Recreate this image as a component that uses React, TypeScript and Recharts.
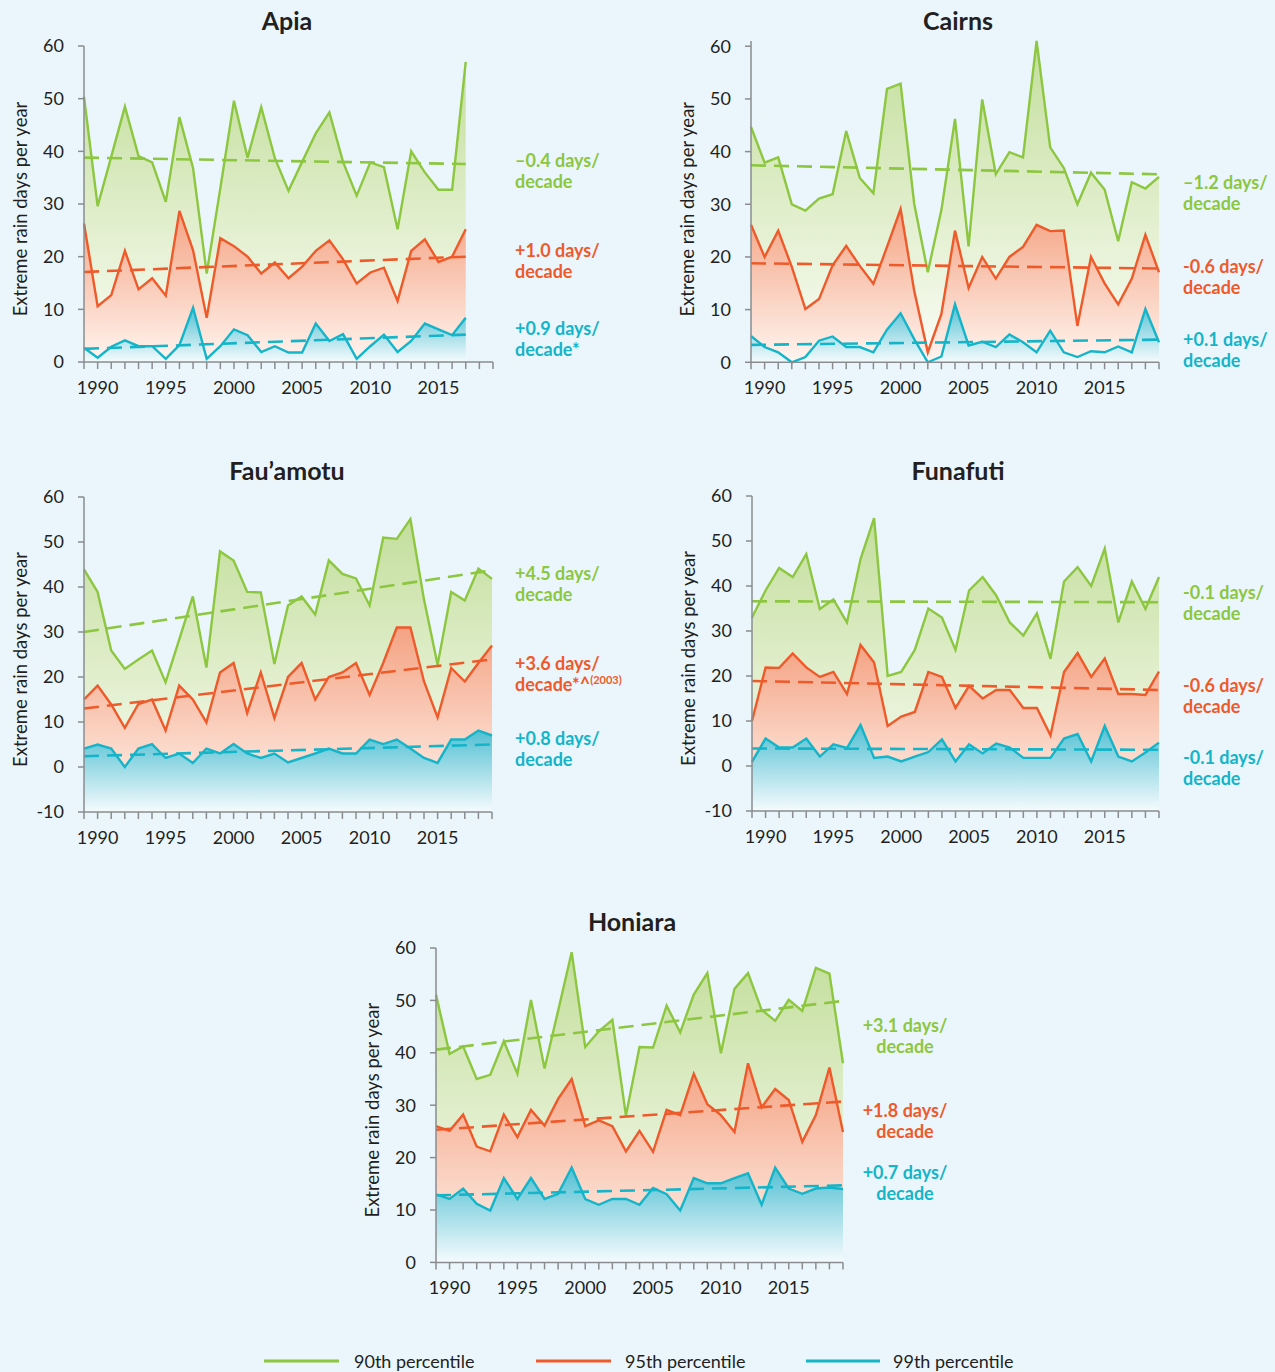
import React from 'react';
import { ComposedChart, Area, Line, XAxis, YAxis } from 'recharts';

const YEARS = [1989, 1990, 1991, 1992, 1993, 1994, 1995, 1996, 1997, 1998, 1999, 2000, 2001, 2002, 2003, 2004, 2005, 2006, 2007, 2008, 2009, 2010, 2011, 2012, 2013, 2014, 2015, 2016, 2017, 2018, 2019];
const X_TICKS = YEARS;
const Y_TICKS_A = [0, 10, 20, 30, 40, 50, 60];
const Y_TICKS_B = [-10, 0, 10, 20, 30, 40, 50, 60];

// Apia (1989-2017)
const APIA_90 = [50.4, 29.6, 39, 48.5, 39.1, 37.9, 30.4, 46.5, 36.8, 16.8, 33, 49.6, 38.8, 48.4, 38.7, 32.5, 38, 43.4, 47.4, 38, 31.6, 37.9, 37, 25.2, 40, 36, 32.7, 32.7, 57];
const APIA_95 = [26.3, 10.6, 12.7, 21.1, 13.8, 15.9, 12.6, 28.7, 21.2, 8.4, 23.5, 22, 20, 16.8, 18.9, 15.9, 18.1, 21.1, 23.1, 19.5, 14.9, 17, 17.9, 11.6, 21.1, 23.3, 19, 20, 25.2];
const APIA_99 = [2.7, 0.8, 2.9, 4.1, 3, 3, 0.6, 3.2, 10.3, 0.6, 3, 6.2, 5.1, 1.9, 3, 1.8, 1.8, 7.3, 4, 5.3, 0.6, 3, 5.2, 1.9, 4, 7.3, 6.2, 5.1, 8.4];
const APIA_T90 = [38.8, 37.6];
const APIA_T95 = [17.1, 20];
const APIA_T99 = [2.5, 5.2];

// Cairns (1989-2019)
const CAIRNS_90 = [44.7, 37.9, 38.9, 30, 28.8, 31.1, 31.9, 43.9, 35, 32.1, 51.9, 52.9, 30.1, 17.1, 28.9, 46.2, 22, 49.9, 35.7, 39.9, 38.9, 61, 40.8, 36.9, 30, 36, 32.8, 23, 34.2, 33, 35.2];
const CAIRNS_95 = [26.1, 20, 25, 18.1, 10.1, 12, 18.4, 22.1, 18.3, 14.9, 21.9, 29.1, 13.6, 1.9, 9.2, 25, 14.1, 20, 15.9, 20, 21.9, 26.1, 24.9, 25, 6.9, 20, 15, 11, 15.9, 24.2, 17.1];
const CAIRNS_99 = [5, 2.9, 1.9, 0, 1, 4.1, 4.9, 2.9, 2.9, 1.9, 6.2, 9.3, 4.4, 0, 1.1, 11, 3.2, 3.9, 2.9, 5.3, 3.8, 1.9, 6, 1.9, 1, 2.1, 1.9, 3, 1.9, 10.1, 3.8];
const CAIRNS_T90 = [37.4, 35.7];
const CAIRNS_T95 = [18.8, 17.8];
const CAIRNS_T99 = [3.3, 4.3];

// Fau'amotu (1989-2019)
const FAU_90 = [43.9, 38.9, 25.9, 21.8, 23.9, 25.9, 18.8, 28.3, 37.9, 22.1, 47.9, 45.9, 38.9, 38.8, 22.9, 35.9, 37.9, 33.9, 45.9, 42.9, 41.9, 35.9, 51, 50.7, 55.1, 37.2, 22.7, 38.9, 37, 44.1, 41.8];
const FAU_95 = [15, 18.1, 13.9, 8.7, 14, 15, 8.1, 18.1, 15, 9.9, 21, 23.1, 12, 21, 10.9, 20, 23.1, 15, 20, 21, 23.1, 16, 23.1, 31, 31, 19, 11, 22, 19, 23.1, 27];
const FAU_99 = [4.1, 5, 4.1, 0, 4.1, 5.1, 2, 3, 0.9, 4.1, 3, 5.1, 3, 2, 3, 1, 2, 3, 4.1, 3, 3, 6.1, 5.1, 6.1, 4.1, 2, 0.9, 6.1, 6.1, 8.1, 7];
const FAU_T90 = [30, 43.7];
const FAU_T95 = [13, 23.9];
const FAU_T99 = [2.4, 5];

// Funafuti (1989-2019)
const FUNA_90 = [33, 39, 44, 42, 47.1, 34.9, 37, 31.9, 46, 55.1, 20, 20.9, 25.8, 35, 33, 25.8, 39, 42, 37.9, 31.9, 29, 33.9, 23.8, 41, 44.2, 40, 48.3, 31.9, 41, 34.9, 42];
const FUNA_95 = [10, 21.9, 21.8, 25, 21.9, 19.8, 20.9, 16, 26.9, 23, 8.9, 11, 12, 20.9, 19.8, 12.9, 17.8, 15, 16.9, 16.9, 12.9, 12.9, 6.8, 20.9, 25.1, 19.8, 23.9, 16, 16, 15.8, 21];
const FUNA_99 = [0.9, 6.1, 4.1, 4.1, 6.1, 2.1, 4.8, 4, 9.1, 1.8, 2.1, 1, 2.1, 3.1, 5.9, 1, 4.8, 2.8, 5, 4.1, 1.8, 1.8, 1.8, 6.1, 7.1, 1, 8.9, 2.1, 1, 3, 5.2];
const FUNA_T90 = [36.6, 36.4];
const FUNA_T95 = [18.9, 16.9];
const FUNA_T99 = [3.9, 3.6];

// Honiara (1989-2019)
const HON_90 = [51.1, 39.8, 41.2, 35, 35.8, 42.2, 36, 50.1, 37, 48, 59.2, 41.1, 44.1, 46.3, 28, 41.1, 41, 49, 43.9, 51.1, 55.2, 39.9, 52.2, 55.2, 48.2, 46.1, 50.1, 48, 56.2, 55.1, 38];
const HON_95 = [26, 25.1, 28.2, 22.1, 21.2, 28.2, 23.9, 29.1, 26.1, 31.2, 35, 26, 27.1, 26, 21.2, 25.1, 21.1, 29.1, 28.1, 36, 30.2, 28.1, 24.9, 38, 29.6, 33.1, 31, 23, 28.1, 37.2, 24.9];
const HON_99 = [13, 12.1, 14.1, 11.2, 9.9, 16.1, 12.1, 16.1, 12.1, 13.1, 18.1, 12.1, 11, 12.1, 12.1, 11, 14.2, 13, 9.9, 16.1, 15.1, 15.1, 16.1, 17, 11, 18.1, 14.1, 13.1, 14.1, 14.3, 14];
const HON_T90 = [40.6, 49.9];
const HON_T95 = [25.3, 30.7];
const HON_T99 = [12.8, 14.7];

const GREEN = '#8dc63f';
const RED = '#ef5a2b';
const CYAN = '#14b4c9';
const AXIS = '#8a8c8f';
const TEXT = '#231f20';
const BG = '#eaf6fc';
const FONT = "Lato, 'Open Sans', sans-serif";

function buildRows(p90: number[], p95: number[], p99: number[], t90: number[], t95: number[], t99: number[]) {
  const last = p90.length - 1;
  return p90.map((v, i) => ({
    year: YEARS[i],
    p90: v,
    p95: p95[i],
    p99: p99[i],
    t90: i === 0 ? t90[0] : i === last ? t90[1] : null,
    t95: i === 0 ? t95[0] : i === last ? t95[1] : null,
    t99: i === 0 ? t99[0] : i === last ? t99[1] : null,
  }));
}

type Cfg = { id: string; axisX: number; top60: number; ppu: number; yMin: number; yMax: number; plotW: number; yTicks: number[]; rows: any[] };

const PANELS: Cfg[] = [
  { id: 'apia', axisX: 84, top60: 46, ppu: 5.267, yMin: 0, yMax: 60, plotW: 409, yTicks: Y_TICKS_A, rows: buildRows(APIA_90, APIA_95, APIA_99, APIA_T90, APIA_T95, APIA_T99) },
  { id: 'cairns', axisX: 751, top60: 46, ppu: 5.267, yMin: 0, yMax: 61, plotW: 408, yTicks: Y_TICKS_A, rows: buildRows(CAIRNS_90, CAIRNS_95, CAIRNS_99, CAIRNS_T90, CAIRNS_T95, CAIRNS_T99) },
  { id: 'fau', axisX: 84, top60: 496.7, ppu: 4.5, yMin: -10, yMax: 60, plotW: 408, yTicks: Y_TICKS_B, rows: buildRows(FAU_90, FAU_95, FAU_99, FAU_T90, FAU_T95, FAU_T99) },
  { id: 'funa', axisX: 752, top60: 496.2, ppu: 4.5, yMin: -10, yMax: 60, plotW: 407, yTicks: Y_TICKS_B, rows: buildRows(FUNA_90, FUNA_95, FUNA_99, FUNA_T90, FUNA_T95, FUNA_T99) },
  { id: 'hon', axisX: 436, top60: 948.3, ppu: 5.24, yMin: 0, yMax: 60, plotW: 407, yTicks: Y_TICKS_A, rows: buildRows(HON_90, HON_95, HON_99, HON_T90, HON_T95, HON_T99) },
];

const TITLES = [
  { text: 'Apia', x: 287, y: 20 },
  { text: 'Cairns', x: 958, y: 20 },
  { text: 'Fau\u2019amotu', x: 287, y: 470 },
  { text: 'Funafuti', x: 958, y: 470 },
  { text: 'Honiara', x: 632, y: 921 },
];

type Note = { l1: string; l2: string; sup?: string; color: string; x: number; y: number; anchor: 'start' | 'middle' };
const NOTES: Note[] = [
  { l1: '\u20130.4 days/', l2: 'decade', color: GREEN, x: 515, y: 160, anchor: 'start' },
  { l1: '+1.0 days/', l2: 'decade', color: RED, x: 515, y: 250, anchor: 'start' },
  { l1: '+0.9 days/', l2: 'decade*', color: CYAN, x: 515, y: 328, anchor: 'start' },
  { l1: '\u20131.2 days/', l2: 'decade', color: GREEN, x: 1183, y: 182, anchor: 'start' },
  { l1: '-0.6 days/', l2: 'decade', color: RED, x: 1183, y: 266, anchor: 'start' },
  { l1: '+0.1 days/', l2: 'decade', color: CYAN, x: 1183, y: 339, anchor: 'start' },
  { l1: '+4.5 days/', l2: 'decade', color: GREEN, x: 515, y: 573, anchor: 'start' },
  { l1: '+3.6 days/', l2: 'decade*^', sup: '(2003)', color: RED, x: 515, y: 663, anchor: 'start' },
  { l1: '+0.8 days/', l2: 'decade', color: CYAN, x: 515, y: 738, anchor: 'start' },
  { l1: '-0.1 days/', l2: 'decade', color: GREEN, x: 1183, y: 592, anchor: 'start' },
  { l1: '-0.6 days/', l2: 'decade', color: RED, x: 1183, y: 685, anchor: 'start' },
  { l1: '-0.1 days/', l2: 'decade', color: CYAN, x: 1183, y: 757, anchor: 'start' },
  { l1: '+3.1 days/', l2: 'decade', color: GREEN, x: 905, y: 1025, anchor: 'middle' },
  { l1: '+1.8 days/', l2: 'decade', color: RED, x: 905, y: 1110, anchor: 'middle' },
  { l1: '+0.7 days/', l2: 'decade', color: CYAN, x: 905, y: 1172, anchor: 'middle' },
];

const LEGEND = [
  { label: '90th percentile', color: GREEN, x1: 264, x2: 339, tx: 354 },
  { label: '95th percentile', color: RED, x1: 536, x2: 611, tx: 625 },
  { label: '99th percentile', color: CYAN, x1: 806, x2: 880, tx: 893 },
];

function Panel({ cfg }: { cfg: Cfg }) {
  const plotH = (cfg.yMax - cfg.yMin) * cfg.ppu;
  const plotTop = cfg.top60 - (cfg.yMax - 60) * cfg.ppu;
  const mTop = 20;
  const W = 84 + cfg.plotW + 12;
  const H = mTop + plotH + 50;
  const ly = mTop + (cfg.yMax - 60) * cfg.ppu + (60 - cfg.yMin) * cfg.ppu / 2 + 5;
  const lx = 20;
  const id = cfg.id;
  return (
    <div style={{ position: 'absolute', left: cfg.axisX - 84, top: plotTop - mTop }}>
      <ComposedChart width={W} height={H} data={cfg.rows} margin={{ top: mTop, right: 12, bottom: 5, left: 0 }}>
        <defs>
          <linearGradient id={`${id}-g90`} x1="0" y1="0" x2="0" y2="1">
            <stop offset="0%" stopColor="#c3de9c" />
            <stop offset="100%" stopColor="#fbfdf7" />
          </linearGradient>
          <linearGradient id={`${id}-g95`} x1="0" y1="0" x2="0" y2="1">
            <stop offset="0%" stopColor="#f4a383" />
            <stop offset="100%" stopColor="#fff5f0" />
          </linearGradient>
          <linearGradient id={`${id}-g99`} x1="0" y1="0" x2="0" y2="1">
            <stop offset="0%" stopColor="#52c0d3" />
            <stop offset="100%" stopColor="#f5fbfd" />
          </linearGradient>
        </defs>
        <XAxis
          type="number"
          dataKey="year"
          domain={[1989, 2019]}
          ticks={X_TICKS}
          interval={0}
          tickFormatter={(v: number) => (v % 5 === 0 ? String(v) : '')}
          height={45}
          tickSize={7}
          tickMargin={12}
          axisLine={{ stroke: AXIS, strokeWidth: 1.5 }}
          tickLine={{ stroke: AXIS, strokeWidth: 1.5 }}
          tick={{ fill: TEXT, fontSize: 18, fontFamily: FONT }}
        />
        <YAxis
          type="number"
          domain={[cfg.yMin, cfg.yMax]}
          ticks={cfg.yTicks}
          interval={0}
          width={84}
          tickSize={6}
          tickMargin={14}
          axisLine={{ stroke: AXIS, strokeWidth: 1.5 }}
          tickLine={{ stroke: AXIS, strokeWidth: 1.5 }}
          tick={{ fill: TEXT, fontSize: 18, fontFamily: FONT }}
          label={{
            content: () => (
              <text
                x={lx}
                y={ly}
                transform={`rotate(-90 ${lx} ${ly})`}
                textAnchor="middle"
                dominantBaseline="central"
                fill={TEXT}
                fontSize={18.5}
                fontFamily={FONT}
              >
                Extreme rain days per year
              </text>
            ),
          }}
        />
        <Area type="linear" dataKey="p90" stroke={GREEN} strokeWidth={2.4} fill={`url(#${id}-g90)`} fillOpacity={1} baseValue={cfg.yMin} dot={false} activeDot={false} isAnimationActive={false} />
        <Area type="linear" dataKey="p95" stroke={RED} strokeWidth={2.4} fill={`url(#${id}-g95)`} fillOpacity={1} baseValue={cfg.yMin} dot={false} activeDot={false} isAnimationActive={false} />
        <Area type="linear" dataKey="p99" stroke={CYAN} strokeWidth={2.4} fill={`url(#${id}-g99)`} fillOpacity={1} baseValue={cfg.yMin} dot={false} activeDot={false} isAnimationActive={false} />
        <Line type="linear" dataKey="t90" stroke={GREEN} strokeWidth={2.6} strokeDasharray="15 8" connectNulls dot={false} activeDot={false} isAnimationActive={false} />
        <Line type="linear" dataKey="t95" stroke={RED} strokeWidth={2.6} strokeDasharray="15 8" connectNulls dot={false} activeDot={false} isAnimationActive={false} />
        <Line type="linear" dataKey="t99" stroke={CYAN} strokeWidth={2.6} strokeDasharray="15 8" connectNulls dot={false} activeDot={false} isAnimationActive={false} />
      </ComposedChart>
    </div>
  );
}

export default function App() {
  return (
    <div style={{ position: 'absolute', left: 0, top: 0, width: 1275, height: 1372, background: BG, fontFamily: FONT, overflow: 'hidden' }}>
      {PANELS.map((p) => (
        <Panel key={p.id} cfg={p} />
      ))}
      <svg width={1275} height={1372} style={{ position: 'absolute', left: 0, top: 0, pointerEvents: 'none' }}>
        {TITLES.map((t) => (
          <text key={t.text} x={t.x} y={t.y} textAnchor="middle" dominantBaseline="central" fontSize={25} fontWeight={700} fill={TEXT} fontFamily={FONT}>
            {t.text}
          </text>
        ))}
        {NOTES.map((n, i) => (
          <g key={i} fill={n.color} fontSize={18} fontWeight={700} fontFamily={FONT} textAnchor={n.anchor}>
            <text x={n.x} y={n.y} dominantBaseline="central">{n.l1}</text>
            <text x={n.x} y={n.y + 21} dominantBaseline="central">
              {n.l2}
              {n.sup ? <tspan fontSize={11} dy={-5}>{n.sup}</tspan> : null}
            </text>
          </g>
        ))}
        {LEGEND.map((l) => (
          <g key={l.label}>
            <line x1={l.x1} x2={l.x2} y1={1361} y2={1361} stroke={l.color} strokeWidth={3} />
            <text x={l.tx} y={1361} dominantBaseline="central" fontSize={18} fill={TEXT} fontFamily={FONT}>
              {l.label}
            </text>
          </g>
        ))}
      </svg>
    </div>
  );
}
